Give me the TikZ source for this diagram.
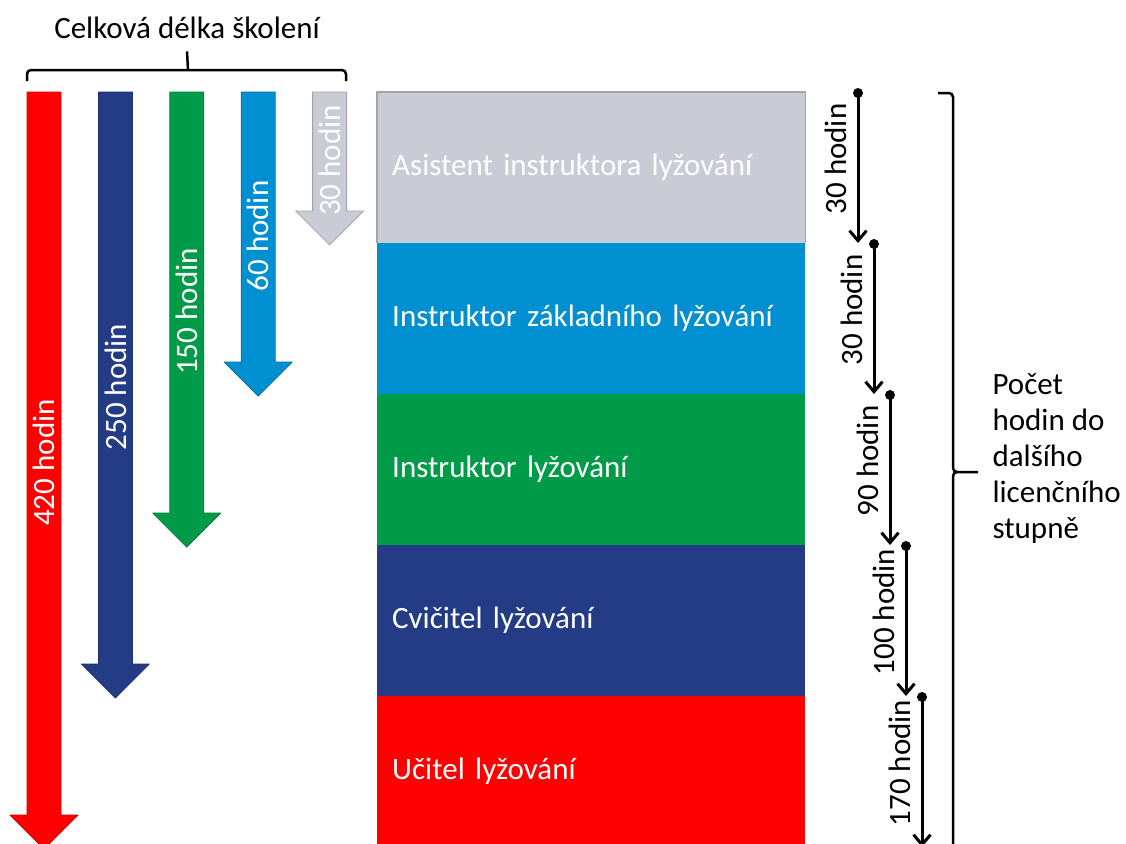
\documentclass[tikz,border=0pt]{standalone}
\usepackage{fontspec}
\setmainfont{Carlito}
\usetikzlibrary{arrows.meta}
\definecolor{sedapl}{RGB}{201,204,213}
\definecolor{svmodra}{RGB}{0,143,208}
\definecolor{zelena}{RGB}{0,155,72}
\definecolor{tmmodra}{RGB}{35,60,133}
\definecolor{cervena}{RGB}{255,0,0}
\tikzset{
	radek/.style={anchor=north west, minimum height=151, text width=398, inner xsep=15, inner ysep=0, align=left, text=white},
	sipka/.style={line width=3, -{Straight Barb[length=10pt,width=17pt]}},
	zavorka/.style={line width=2.5, rounded corners=4}
}
\begin{document}
\begin{tikzpicture}[x=1pt, y=-1pt, font=\fontsize{31}{36}\selectfont, line join=round]
	\def\ytop{92} \def\vyska{151}
	\useasboundingbox (0,0) rectangle (1126,843);
	\clip (0,0) rectangle (1126,843);
	% licencni stupne
	\foreach \barva/\popis [count=\i from 0] in {sedapl/Asistent instruktora lyžování, svmodra/Instruktor základního lyžování, zelena/Instruktor lyžování, tmmodra/Cvičitel lyžování, cervena/Učitel lyžování}
		\node[radek, fill=\barva] (r\i) at (377,{\ytop+\i*\vyska}) {\popis};
	\draw[sedapl!80!black, line width=1.2] (r0.south west) |- (r0.north east) -- (r0.south east);
	% celkova delka
	\foreach \barva/\hodiny [count=\i from 0] in {cervena/420, tmmodra/250, zelena/150, svmodra/60, sedapl/30}{
		\pgfmathsetmacro\xc{44+71.4*\i}
		\pgfmathsetmacro\yk{\ytop+\vyska*(5-\i)+2}
		\draw[fill=\barva, draw=\barva!80!black, line width=0.8]
			(\xc-17,\ytop) -- (\xc+17,\ytop) -- (\xc+17,\yk-34) -- (\xc+34,\yk-34)
			-- (\xc,\yk) -- (\xc-34,\yk-34) -- (\xc-17,\yk-34) -- cycle;
		\node[rotate=90, text=white] (s\i) at (\xc,{(\ytop+\yk)/2-8}) {\hodiny\ hodin};
	}
	\node (nadpis) at (187,28) {Celková délka školení};
	\draw[zavorka] (27,81) |- (188,70) -| (346,81);
	\draw[line width=2.5] (188,70) -- ([yshift=-9pt]nadpis.south);
	% hodiny do dalsiho stupne
	\foreach \hodiny [count=\i from 0] in {30,30,90,100,170}{
		\pgfmathsetmacro\xs{858+16*\i}
		\coordinate (z\i) at (\xs,{\ytop+1+\vyska*\i});
		\coordinate (k\i) at (\xs,{\ytop+\vyska*(\i+1)});
		\fill (z\i) circle (5pt);
		\draw[sipka] (z\i) -- (k\i) node[pos=0.44, rotate=90, anchor=south, inner sep=10]{\hodiny\ hodin};
	}
	\node[anchor=west, align=left] (dalsi) at (989,459) {Počet\\hodin do\\dalšího\\licenčního\\stupně};
	\draw[zavorka] (938,93) -| (953,472) -- (978,472) (953,870) |- (978,472);
\end{tikzpicture}
\end{document}
